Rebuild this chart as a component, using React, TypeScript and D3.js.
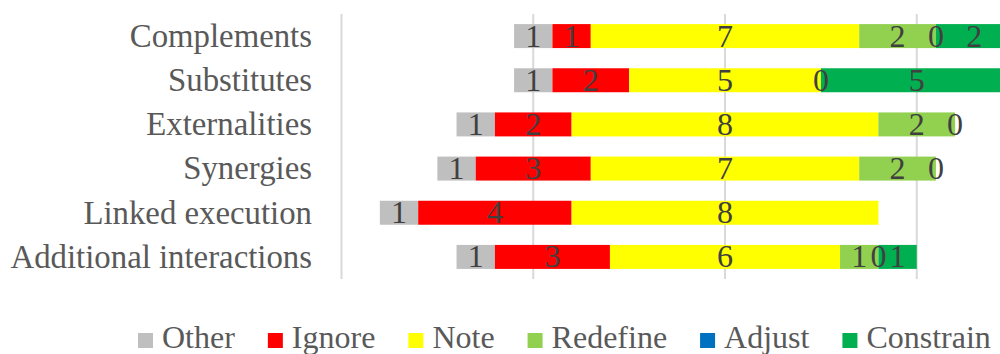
import React from "react";
import * as d3 from "d3";

// Categories, top to bottom
const categories = [
  "Complements",
  "Substitutes",
  "Externalities",
  "Synergies",
  "Linked execution",
  "Additional interactions",
];

// Series values per category (null = no segment / no label)
const otherValues: (number | null)[] = [1, 1, 1, 1, 1, 1];
const ignoreValues: (number | null)[] = [1, 2, 2, 3, 4, 3];
const noteValues: (number | null)[] = [7, 5, 8, 7, 8, 6];
const redefineValues: (number | null)[] = [2, 0, 2, 2, null, 1];
const adjustValues: (number | null)[] = [0, null, 0, 0, null, 0];
const constrainValues: (number | null)[] = [2, 5, null, null, null, 1];

const seriesNames = ["Other", "Ignore", "Note", "Redefine", "Adjust", "Constrain"];
const seriesColors = ["#bfbfbf", "#ff0000", "#ffff00", "#92d050", "#0070c0", "#00b050"];
const seriesValues = [
  otherValues,
  ignoreValues,
  noteValues,
  redefineValues,
  adjustValues,
  constrainValues,
];

const xTicks = [-10, -5, 0, 5, 10];

const FONT = "'Liberation Serif', 'Times New Roman', serif";
const FONT_SIZE = 32;
const CAT_FONT_SIZE = 32.8;

function measure(text: string): number {
  const canvas = document.createElement("canvas");
  const ctx = canvas.getContext("2d");
  if (!ctx) return text.length * FONT_SIZE * 0.45;
  ctx.font = `${FONT_SIZE}px ${FONT}`;
  return ctx.measureText(text).width;
}

export default function App() {
  const width = 1000;
  const height = 354;

  const x = d3.scaleLinear().domain([-10, 10]).range([341.5, 1108.5]);
  const y = d3
    .scaleBand<string>()
    .domain(categories)
    .range([14, 279])
    .paddingInner(0.457)
    .paddingOuter(0.2285);

  // Diverging layout: the Note segment is centred on zero
  const segments: {
    key: string;
    x0: number;
    x1: number;
    y: number;
    color: string;
    value: number | null;
  }[] = [];
  categories.forEach((cat, i) => {
    const note = noteValues[i] ?? 0;
    let start = -(note / 2 + (ignoreValues[i] ?? 0) + (otherValues[i] ?? 0));
    seriesValues.forEach((vals, s) => {
      const v = vals[i];
      const w = v ?? 0;
      segments.push({
        key: `${cat}-${s}`,
        x0: start,
        x1: start + w,
        y: y(cat) as number,
        color: seriesColors[s],
        value: v,
      });
      start += w;
    });
  });

  const bh = y.bandwidth();

  // Legend layout along the bottom
  const sq = 15;
  let lx = 138;
  const legendItems = seriesNames.map((name, i) => {
    const item = { name, color: seriesColors[i], x: lx };
    lx += sq + 9 + measure(name) + 33;
    return item;
  });

  return (
    <svg
      width={width}
      height={height}
      style={{ position: "absolute", left: 0, top: 0, background: "#ffffff" }}
      fontFamily={FONT}
    >
      <rect width={width} height={height} fill="#ffffff" />
      {xTicks.map((t) => (
        <line
          key={t}
          x1={x(t)}
          x2={x(t)}
          y1={14}
          y2={279}
          stroke="#d9d9d9"
          strokeWidth={2}
        />
      ))}
      {segments.map((s) =>
        s.x1 > s.x0 ? (
          <rect
            key={s.key}
            x={x(s.x0)}
            y={s.y}
            width={x(s.x1) - x(s.x0)}
            height={bh}
            fill={s.color}
          />
        ) : null
      )}
      {segments.map((s) =>
        s.value !== null ? (
          <text
            key={`l-${s.key}`}
            x={x((s.x0 + s.x1) / 2)}
            y={s.y + bh / 2}
            dy="0.33em"
            textAnchor="middle"
            fontSize={FONT_SIZE}
            fill="#404040"
          >
            {s.value}
          </text>
        ) : null
      )}
      {categories.map((c) => (
        <text
          key={c}
          x={312}
          y={(y(c) as number) + bh / 2}
          dy="0.33em"
          textAnchor="end"
          fontSize={CAT_FONT_SIZE}
          fill="#595959"
        >
          {c}
        </text>
      ))}
      {legendItems.map((it) => (
        <g key={it.name}>
          <rect x={it.x} y={333} width={sq} height={sq} fill={it.color} />
          <text x={it.x + sq + 9} y={348} fontSize={FONT_SIZE} fill="#595959">
            {it.name}
          </text>
        </g>
      ))}
    </svg>
  );
}
